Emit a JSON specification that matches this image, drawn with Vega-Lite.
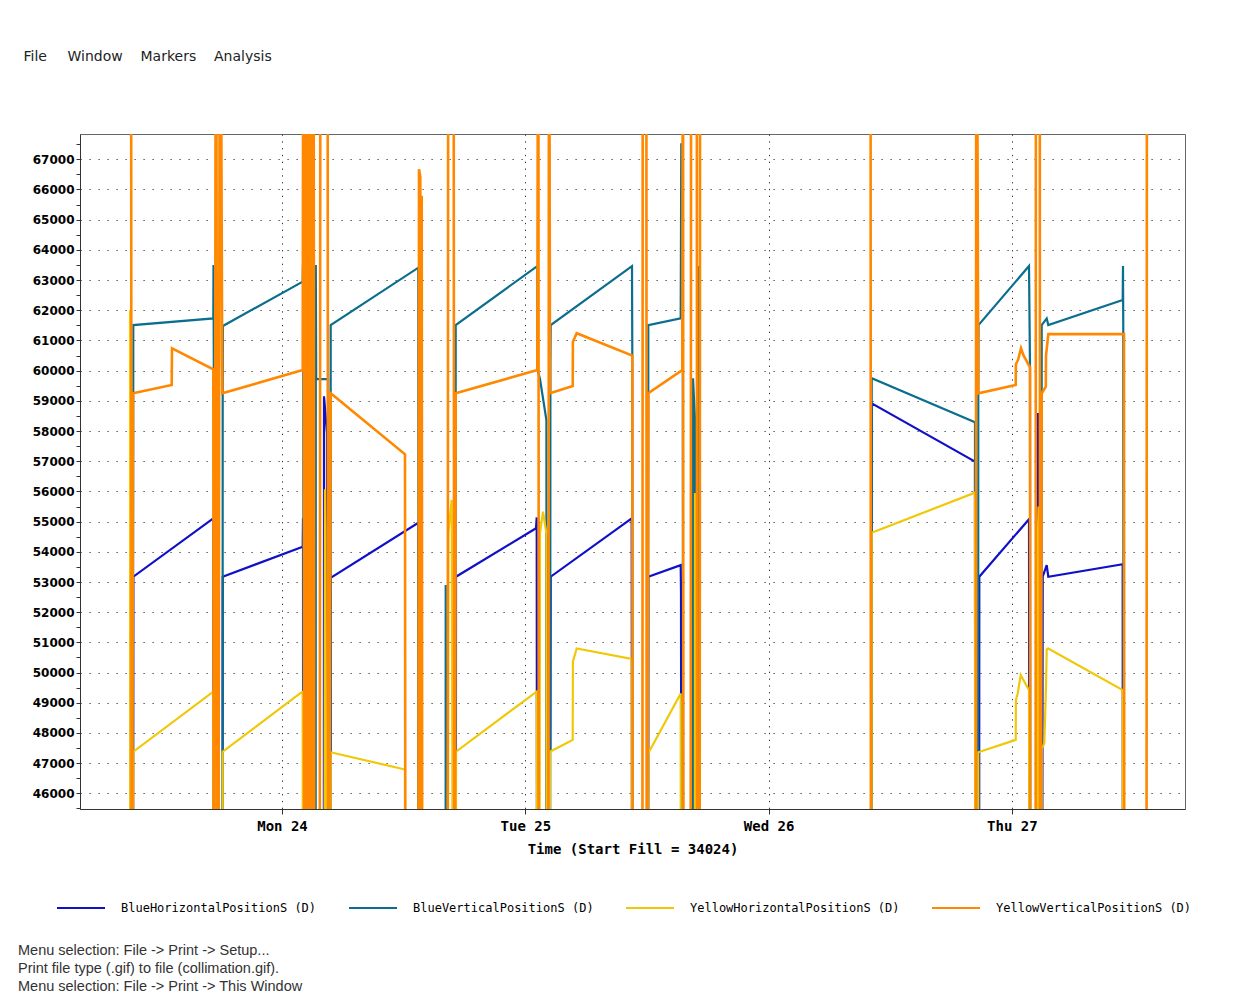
{
"$schema": "https://vega.github.io/schema/vega-lite/v6.json",
"width": 1105,
"height": 675,
"autosize": {"type": "none"},
"padding": {"left": 80, "top": 134, "right": 63, "bottom": 191},
"background": "white",
"config": {
  "view": {"stroke": "#666", "strokeWidth": 1},
  "legend": {"orient": "none", "legendX": -24, "legendY": 749, "direction": "horizontal", "columns": 4, "symbolType": "stroke", "symbolSize": 2304, "symbolStrokeWidth": 2, "labelFont": "DejaVu Sans Mono", "labelFontSize": 12, "labelColor": "#000", "labelOffset": 15, "columnPadding": 28, "labelLimit": 0}
},
"title": {"text": ["Menu selection: File -> Print -> Setup...", "Print file type (.gif) to file (collimation.gif).", "Menu selection: File -> Print -> This Window"], "orient": "bottom", "anchor": "start", "frame": "group", "dx": -62, "offset": 30, "font": "Liberation Sans", "fontSize": 14.5, "fontWeight": "normal", "color": "#333", "lineHeight": 18},
"datasets": {
"O": [
{"t":"2023-07-23T09:06:17","v":80000},
{"t":"2023-07-23T09:11:01","v":30000},
{"t":"2023-07-23T09:18:07","v":59250},
{"t":"2023-07-23T13:07:10","v":59525},
{"t":"2023-07-23T13:08:57","v":60740},
{"t":"2023-07-23T17:13:23","v":60045},
{"t":"2023-07-23T17:17:32","v":30000},
{"t":"2023-07-23T17:29:22","v":80000},
{"t":"2023-07-23T17:41:12","v":30000},
{"t":"2023-07-23T17:53:03","v":80000},
{"t":"2023-07-23T18:06:39","v":59250},
{"t":"2023-07-24T02:02:31","v":60020},
{"t":"2023-07-24T02:07:15","v":80000},
{"t":"2023-07-24T02:13:10","v":30000},
{"t":"2023-07-24T02:19:05","v":80000},
{"t":"2023-07-24T02:25:00","v":30000},
{"t":"2023-07-24T02:30:55","v":80000},
{"t":"2023-07-24T02:36:50","v":30000},
{"t":"2023-07-24T02:42:45","v":80000},
{"t":"2023-07-24T02:48:41","v":30000},
{"t":"2023-07-24T02:54:36","v":80000},
{"t":"2023-07-24T03:00:31","v":30000},
{"t":"2023-07-24T03:06:26","v":80000},
{"t":"2023-07-24T03:12:21","v":30000},
{"t":"2023-07-24T03:41:57","v":30000},
{"t":"2023-07-24T03:47:52","v":80000},
{"t":"2023-07-24T04:29:18","v":80000},
{"t":"2023-07-24T04:34:02","v":30000},
{"t":"2023-07-24T04:48:14","v":59250},
{"t":"2023-07-24T12:07:59","v":57230},
{"t":"2023-07-24T12:11:32","v":30000},
{"t":"2023-07-24T13:26:42","v":30000},
{"t":"2023-07-24T13:30:51","v":66670},
{"t":"2023-07-24T13:38:32","v":66420},
{"t":"2023-07-24T13:41:30","v":30000},
{"t":"2023-07-24T13:46:49","v":65790},
{"t":"2023-07-24T13:51:34","v":30000},
{"t":"2023-07-24T16:19:31","v":30000},
{"t":"2023-07-24T16:24:15","v":80000},
{"t":"2023-07-24T16:55:02","v":80000},
{"t":"2023-07-24T17:00:57","v":30000},
{"t":"2023-07-24T17:08:03","v":59250},
{"t":"2023-07-25T01:11:01","v":60020},
{"t":"2023-07-25T01:16:56","v":80000},
{"t":"2023-07-25T01:21:05","v":30000},
{"t":"2023-07-25T02:16:07","v":30000},
{"t":"2023-07-25T02:20:16","v":80000},
{"t":"2023-07-25T02:26:11","v":59250},
{"t":"2023-07-25T04:40:32","v":59490},
{"t":"2023-07-25T04:41:43","v":60960},
{"t":"2023-07-25T05:04:12","v":61240},
{"t":"2023-07-25T10:33:17","v":60500},
{"t":"2023-07-25T10:36:14","v":30000},
{"t":"2023-07-25T11:32:28","v":30000},
{"t":"2023-07-25T11:35:26","v":80000},
{"t":"2023-07-25T11:56:08","v":80000},
{"t":"2023-07-25T11:59:06","v":30000},
{"t":"2023-07-25T12:07:59","v":59250},
{"t":"2023-07-25T15:29:13","v":60020},
{"t":"2023-07-25T15:33:21","v":80000},
{"t":"2023-07-25T15:36:19","v":30000},
{"t":"2023-07-25T16:17:45","v":30000},
{"t":"2023-07-25T16:21:53","v":80000},
{"t":"2023-07-25T16:54:26","v":80000},
{"t":"2023-07-25T16:57:59","v":30000},
{"t":"2023-07-25T17:11:01","v":30000},
{"t":"2023-07-25T17:15:09","v":80000},
{"t":"2023-07-26T10:03:05","v":80000},
{"t":"2023-07-26T10:06:03","v":30000},
{"t":"2023-07-26T20:25:44","v":30000},
{"t":"2023-07-26T20:29:17","v":80000},
{"t":"2023-07-26T20:41:07","v":59250},
{"t":"2023-07-27T00:22:28","v":59525},
{"t":"2023-07-27T00:23:39","v":60210},
{"t":"2023-07-27T00:37:52","v":60380},
{"t":"2023-07-27T00:53:50","v":60740},
{"t":"2023-07-27T01:07:27","v":60520},
{"t":"2023-07-27T01:47:06","v":60110},
{"t":"2023-07-27T01:50:04","v":30000},
{"t":"2023-07-27T02:19:40","v":30000},
{"t":"2023-07-27T02:22:37","v":80000},
{"t":"2023-07-27T02:44:31","v":80000},
{"t":"2023-07-27T02:47:29","v":30000},
{"t":"2023-07-27T02:56:21","v":59250},
{"t":"2023-07-27T03:20:37","v":59470},
{"t":"2023-07-27T03:21:48","v":60490},
{"t":"2023-07-27T03:35:25","v":61210},
{"t":"2023-07-27T11:03:27","v":61210},
{"t":"2023-07-27T11:05:49","v":30000},
{"t":"2023-07-27T13:16:02","v":30000},
{"t":"2023-07-27T13:19:35","v":80000}
],
"T": [
{"t":"2023-07-23T09:15:10","v":30000},
{"t":"2023-07-23T09:19:54","v":61510},
{"t":"2023-07-23T17:13:23","v":61730},
{"t":"2023-07-23T17:14:34","v":63500},
{"t":"2023-07-23T17:16:21","v":60050},
{"t":"2023-07-23T17:17:32","v":30000},
{"t":"2023-07-23T18:07:50","v":30000},
{"t":"2023-07-23T18:09:01","v":59250},
{"t":"2023-07-23T18:10:12","v":61480},
{"t":"2023-07-24T02:02:31","v":62946},
{"t":"2023-07-24T02:04:17","v":63500},
{"t":"2023-07-24T02:06:04","v":60030},
{"t":"2023-07-24T02:09:01","v":30000},
{"t":"2023-07-24T03:18:52","v":30000},
{"t":"2023-07-24T03:20:03","v":63500},
{"t":"2023-07-24T03:22:25","v":59720},
{"t":"2023-07-24T04:32:15","v":59720},
{"t":"2023-07-24T04:35:13","v":30000},
{"t":"2023-07-24T04:45:52","v":30000},
{"t":"2023-07-24T04:48:14","v":61510},
{"t":"2023-07-24T13:26:42","v":63410},
{"t":"2023-07-24T13:29:40","v":30000},
{"t":"2023-07-24T16:07:41","v":30000},
{"t":"2023-07-24T16:08:52","v":52900},
{"t":"2023-07-24T16:10:39","v":48650},
{"t":"2023-07-24T16:11:50","v":30000},
{"t":"2023-07-24T17:05:41","v":30000},
{"t":"2023-07-24T17:08:03","v":61510},
{"t":"2023-07-25T01:11:01","v":63465},
{"t":"2023-07-25T01:12:12","v":60030},
{"t":"2023-07-25T01:27:00","v":59725},
{"t":"2023-07-25T02:04:52","v":58365},
{"t":"2023-07-25T02:06:39","v":30000},
{"t":"2023-07-25T02:26:11","v":30000},
{"t":"2023-07-25T02:28:33","v":60240},
{"t":"2023-07-25T02:30:19","v":61510},
{"t":"2023-07-25T10:31:30","v":63465},
{"t":"2023-07-25T10:33:17","v":60550},
{"t":"2023-07-25T10:36:14","v":30000},
{"t":"2023-07-25T12:06:12","v":30000},
{"t":"2023-07-25T12:07:59","v":61510},
{"t":"2023-07-25T15:19:44","v":61730},
{"t":"2023-07-25T15:23:18","v":67530},
{"t":"2023-07-25T15:29:13","v":67030},
{"t":"2023-07-25T15:32:10","v":60030},
{"t":"2023-07-25T15:35:08","v":30000},
{"t":"2023-07-25T16:29:35","v":30000},
{"t":"2023-07-25T16:32:32","v":59750},
{"t":"2023-07-25T16:44:23","v":58400},
{"t":"2023-07-25T16:46:09","v":30000},
{"t":"2023-07-25T17:06:52","v":30000},
{"t":"2023-07-25T17:08:03","v":63465},
{"t":"2023-07-25T17:09:50","v":60030},
{"t":"2023-07-25T17:11:36","v":30000},
{"t":"2023-07-26T10:08:25","v":30000},
{"t":"2023-07-26T10:10:12","v":59750},
{"t":"2023-07-26T20:21:35","v":58290},
{"t":"2023-07-26T20:23:22","v":30000},
{"t":"2023-07-26T20:39:20","v":30000},
{"t":"2023-07-26T20:41:07","v":59250},
{"t":"2023-07-26T20:42:18","v":61510},
{"t":"2023-07-27T01:41:11","v":63465},
{"t":"2023-07-27T01:47:06","v":60110},
{"t":"2023-07-27T01:50:04","v":30000},
{"t":"2023-07-27T02:53:59","v":30000},
{"t":"2023-07-27T02:56:21","v":61510},
{"t":"2023-07-27T03:25:57","v":61730},
{"t":"2023-07-27T03:35:25","v":61510},
{"t":"2023-07-27T10:55:45","v":62340},
{"t":"2023-07-27T10:57:32","v":63465},
{"t":"2023-07-27T10:59:18","v":61210},
{"t":"2023-07-27T11:01:05","v":30000}
],
"B": [
{"t":"2023-07-23T09:00:22","v":56000},
{"t":"2023-07-23T09:03:20","v":55060},
{"t":"2023-07-23T09:06:17","v":30000},
{"t":"2023-07-23T09:18:07","v":30000},
{"t":"2023-07-23T09:19:54","v":53175},
{"t":"2023-07-23T17:13:23","v":55110},
{"t":"2023-07-23T17:17:32","v":30000},
{"t":"2023-07-23T18:07:50","v":30000},
{"t":"2023-07-23T18:09:01","v":53175},
{"t":"2023-07-24T02:02:31","v":54170},
{"t":"2023-07-24T02:04:17","v":55110},
{"t":"2023-07-24T02:06:04","v":30000},
{"t":"2023-07-24T03:00:31","v":30000},
{"t":"2023-07-24T03:03:28","v":59100},
{"t":"2023-07-24T03:06:26","v":57430},
{"t":"2023-07-24T03:12:21","v":30000},
{"t":"2023-07-24T04:06:48","v":30000},
{"t":"2023-07-24T04:08:35","v":59150},
{"t":"2023-07-24T04:26:20","v":57930},
{"t":"2023-07-24T04:28:06","v":30000},
{"t":"2023-07-24T04:45:52","v":30000},
{"t":"2023-07-24T04:48:14","v":53140},
{"t":"2023-07-24T13:26:42","v":54960},
{"t":"2023-07-24T13:29:40","v":30000},
{"t":"2023-07-24T17:08:03","v":30000},
{"t":"2023-07-24T17:09:50","v":53175},
{"t":"2023-07-25T01:03:19","v":54780},
{"t":"2023-07-25T01:07:28","v":55140},
{"t":"2023-07-25T01:11:01","v":30000},
{"t":"2023-07-25T02:04:52","v":30000},
{"t":"2023-07-25T02:06:39","v":54610},
{"t":"2023-07-25T02:08:25","v":50030},
{"t":"2023-07-25T02:26:11","v":50960},
{"t":"2023-07-25T02:28:33","v":47380},
{"t":"2023-07-25T02:30:19","v":53175},
{"t":"2023-07-25T10:29:44","v":55110},
{"t":"2023-07-25T10:33:17","v":30000},
{"t":"2023-07-25T12:06:12","v":30000},
{"t":"2023-07-25T12:07:59","v":53175},
{"t":"2023-07-25T15:19:44","v":53560},
{"t":"2023-07-25T15:21:31","v":52680},
{"t":"2023-07-25T15:25:40","v":30000},
{"t":"2023-07-25T16:29:35","v":30000},
{"t":"2023-07-25T16:32:32","v":59140},
{"t":"2023-07-25T16:44:23","v":56820},
{"t":"2023-07-25T16:46:09","v":30000},
{"t":"2023-07-26T10:08:25","v":30000},
{"t":"2023-07-26T10:10:12","v":58920},
{"t":"2023-07-26T20:21:35","v":56990},
{"t":"2023-07-26T20:23:22","v":30000},
{"t":"2023-07-26T20:45:16","v":30000},
{"t":"2023-07-26T20:47:02","v":53175},
{"t":"2023-07-27T01:41:11","v":55080},
{"t":"2023-07-27T01:47:06","v":30000},
{"t":"2023-07-27T02:32:41","v":30000},
{"t":"2023-07-27T02:34:27","v":58600},
{"t":"2023-07-27T02:37:25","v":57320},
{"t":"2023-07-27T02:44:31","v":30000},
{"t":"2023-07-27T02:56:21","v":30000},
{"t":"2023-07-27T03:02:16","v":53175},
{"t":"2023-07-27T03:25:57","v":53560},
{"t":"2023-07-27T03:35:25","v":53175},
{"t":"2023-07-27T10:55:45","v":53590},
{"t":"2023-07-27T10:57:32","v":30000}
],
"Y": [
{"t":"2023-07-23T09:00:22","v":62000},
{"t":"2023-07-23T09:03:20","v":30000},
{"t":"2023-07-23T09:18:07","v":30000},
{"t":"2023-07-23T09:19:54","v":47380},
{"t":"2023-07-23T17:13:23","v":49370},
{"t":"2023-07-23T17:16:21","v":30000},
{"t":"2023-07-23T17:29:22","v":30000},
{"t":"2023-07-23T17:41:12","v":55550},
{"t":"2023-07-23T17:42:59","v":54620},
{"t":"2023-07-23T17:53:03","v":30000},
{"t":"2023-07-23T18:07:50","v":30000},
{"t":"2023-07-23T18:09:01","v":47380},
{"t":"2023-07-24T01:46:32","v":49310},
{"t":"2023-07-24T02:02:31","v":49360},
{"t":"2023-07-24T02:04:17","v":30000},
{"t":"2023-07-24T04:08:35","v":30000},
{"t":"2023-07-24T04:14:30","v":56070},
{"t":"2023-07-24T04:17:27","v":54710},
{"t":"2023-07-24T04:26:20","v":30000},
{"t":"2023-07-24T04:45:52","v":30000},
{"t":"2023-07-24T04:48:14","v":47360},
{"t":"2023-07-24T12:07:59","v":46790},
{"t":"2023-07-24T12:11:32","v":30000},
{"t":"2023-07-24T13:26:42","v":30000},
{"t":"2023-07-24T13:30:51","v":55620},
{"t":"2023-07-24T13:38:32","v":50000},
{"t":"2023-07-24T13:41:30","v":30000},
{"t":"2023-07-24T16:19:31","v":30000},
{"t":"2023-07-24T16:24:15","v":54620},
{"t":"2023-07-24T16:44:23","v":55720},
{"t":"2023-07-24T16:55:02","v":30000},
{"t":"2023-07-24T17:08:03","v":30000},
{"t":"2023-07-24T17:09:50","v":47380},
{"t":"2023-07-25T01:07:28","v":49370},
{"t":"2023-07-25T01:11:01","v":30000},
{"t":"2023-07-25T01:21:05","v":30000},
{"t":"2023-07-25T01:27:00","v":54610},
{"t":"2023-07-25T01:44:45","v":55330},
{"t":"2023-07-25T02:04:52","v":54610},
{"t":"2023-07-25T02:08:25","v":30000},
{"t":"2023-07-25T02:20:16","v":30000},
{"t":"2023-07-25T02:26:11","v":47380},
{"t":"2023-07-25T04:40:32","v":47770},
{"t":"2023-07-25T04:41:43","v":50360},
{"t":"2023-07-25T05:04:12","v":50800},
{"t":"2023-07-25T10:29:44","v":50450},
{"t":"2023-07-25T10:33:17","v":30000},
{"t":"2023-07-25T12:06:12","v":30000},
{"t":"2023-07-25T12:07:59","v":47330},
{"t":"2023-07-25T15:19:44","v":49310},
{"t":"2023-07-25T15:21:31","v":30000},
{"t":"2023-07-25T16:42:36","v":30000},
{"t":"2023-07-25T16:44:23","v":55950},
{"t":"2023-07-25T16:46:09","v":54620},
{"t":"2023-07-25T16:54:26","v":30000},
{"t":"2023-07-26T10:08:25","v":30000},
{"t":"2023-07-26T10:10:12","v":54630},
{"t":"2023-07-26T20:21:35","v":55960},
{"t":"2023-07-26T20:23:22","v":30000},
{"t":"2023-07-26T20:39:20","v":30000},
{"t":"2023-07-26T20:41:07","v":47360},
{"t":"2023-07-27T00:22:28","v":47770},
{"t":"2023-07-27T00:23:39","v":49090},
{"t":"2023-07-27T00:34:19","v":49310},
{"t":"2023-07-27T00:52:04","v":49920},
{"t":"2023-07-27T01:07:27","v":49760},
{"t":"2023-07-27T01:41:11","v":49420},
{"t":"2023-07-27T01:47:06","v":30000},
{"t":"2023-07-27T02:32:41","v":30000},
{"t":"2023-07-27T02:34:27","v":54610},
{"t":"2023-07-27T02:37:25","v":55500},
{"t":"2023-07-27T02:44:31","v":30000},
{"t":"2023-07-27T02:53:59","v":30000},
{"t":"2023-07-27T02:56:21","v":47470},
{"t":"2023-07-27T03:11:45","v":47660},
{"t":"2023-07-27T03:21:48","v":49530},
{"t":"2023-07-27T03:25:57","v":50770},
{"t":"2023-07-27T03:35:25","v":50800},
{"t":"2023-07-27T10:55:45","v":49420},
{"t":"2023-07-27T10:57:32","v":30000}
]
},
"encoding": {
  "x": {"field": "t", "type": "temporal",
    "scale": {"domain": [{"year": 2023, "month": 7, "date": 23, "hours": 4, "minutes": 4, "seconds": 24}, {"year": 2023, "month": 7, "date": 27, "hours": 17, "minutes": 4, "seconds": 30}], "nice": false},
    "axis": {"tickCount": {"interval": "day", "step": 1}, "format": "%a %d", "labelFont": "DejaVu Sans Mono", "labelFontWeight": "bold", "labelFontSize": 14, "labelColor": "#000", "labelPadding": 5, "labelFlush": false, "tickSize": 5, "tickColor": "#333", "domainColor": "#333", "grid": true, "gridDash": [1.3, 5.5], "gridColor": "#333", "gridWidth": 1, "title": "Time (Start Fill = 34024)", "titleFont": "DejaVu Sans Mono", "titleFontWeight": "bold", "titleFontSize": 14, "titleColor": "#000", "titlePadding": 9}},
  "y": {"field": "v", "type": "quantitative",
    "scale": {"domain": [45482, 67838], "nice": false, "zero": false},
    "axis": {"values": [45500,46000,46500,47000,47500,48000,48500,49000,49500,50000,50500,51000,51500,52000,52500,53000,53500,54000,54500,55000,55500,56000,56500,57000,57500,58000,58500,59000,59500,60000,60500,61000,61500,62000,62500,63000,63500,64000,64500,65000,65500,66000,66500,67000,67500],
      "format": "d", "labelExpr": "datum.value % 1000 === 0 ? datum.label : ''", "labelOverlap": false,
      "labelFont": "DejaVu Sans", "labelFontWeight": "bold", "labelFontSize": 12, "labelColor": "#000", "labelPadding": 2,
      "tickSize": 4, "tickColor": "#333", "domainColor": "#333",
      "grid": true, "gridDash": [1.2, 7.8], "gridColor": "#333", "gridWidth": 1,
      "gridOpacity": {"condition": {"test": "datum.value % 1000 !== 0", "value": 0}, "value": 1},
      "title": "File\u00a0\u00a0\u00a0\u00a0\u2009Window\u00a0\u00a0\u00a0\u00a0Markers\u00a0\u00a0\u00a0\u00a0Analysis",
      "titleAngle": 0, "titleX": -57, "titleY": -78, "titleAlign": "left", "titleBaseline": "middle",
      "titleFont": "DejaVu Sans", "titleFontSize": 14, "titleFontWeight": "normal", "titleColor": "#222"}}
},
"layer": [
  {"data": {"name": "B"}, "mark": {"type": "line", "clip": true, "strokeWidth": 2.2},
   "encoding": {"color": {"datum": "BlueHorizontalPositionS (D)", "type": "nominal",
     "scale": {"domain": ["BlueHorizontalPositionS (D)", "BlueVerticalPositionS (D)", "YellowHorizontalPositionS (D)", "YellowVerticalPositionS (D)"], "range": ["#1010c8", "#0a6e8e", "#f0c808", "#ff8800"]},
     "legend": {"title": null}}}},
  {"data": {"name": "T"}, "mark": {"type": "line", "clip": true, "strokeWidth": 2.2},
   "encoding": {"color": {"datum": "BlueVerticalPositionS (D)", "type": "nominal"}}},
  {"data": {"name": "Y"}, "mark": {"type": "line", "clip": true, "strokeWidth": 2.2},
   "encoding": {"color": {"datum": "YellowHorizontalPositionS (D)", "type": "nominal"}}},
  {"data": {"name": "O"}, "mark": {"type": "line", "clip": true, "strokeWidth": 2.6},
   "encoding": {"color": {"datum": "YellowVerticalPositionS (D)", "type": "nominal"}}}
]
}
